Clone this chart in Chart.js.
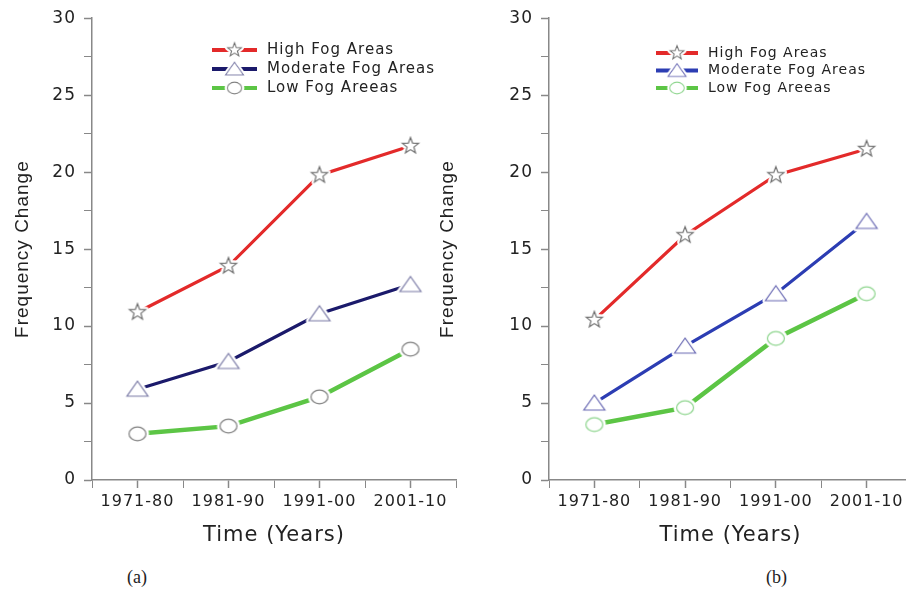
<!DOCTYPE html>
<html>
<head>
<meta charset="utf-8">
<script src="https://cdn.jsdelivr.net/npm/chart.js@4.4.1/dist/chart.umd.min.js"></script>
<style>
  body { margin: 0; background: #fff; width: 906px; height: 597px; overflow: hidden; position: relative; }
  .box { position: absolute; top: 0; height: 560px; }
  #wrap-a { left: 0; width: 460px; }
  #wrap-b { left: 420px; width: 496px; }
  .cap { position: absolute; top: 567px; font: 18px 'Liberation Serif', 'DejaVu Serif', serif; color: #222; }
</style>
</head>
<body>
<div class="box" id="wrap-a"><canvas id="chart-a"></canvas></div>
<div class="box" id="wrap-b"><canvas id="chart-b"></canvas></div>
<div class="cap" style="left:127px">(a)</div>
<div class="cap" style="left:766px">(b)</div>
<script>
// Данные
const periods = ['1971-80', '1981-90', '1991-00', '2001-10'];
const seriesNames = ['High Fog Areas', 'Moderate Fog Areas', 'Low Fog Areeas'];

// (a)
const highA = [10.9, 13.9, 19.8, 21.7];
const modA  = [5.9, 7.7, 10.8, 12.7];
const lowA  = [3.0, 3.5, 5.4, 8.5];

// (b)
const highB = [10.4, 15.9, 19.8, 21.5];
const modB  = [5.0, 8.7, 12.1, 16.8];
const lowB  = [3.6, 4.7, 9.2, 12.1];

Chart.defaults.font.family = 'DejaVu Sans';
Chart.defaults.color = '#222';

// Маркеры: белая "подложка" вокруг, чтобы линия не доходила до значка
function marker(shape, color) {
  const c = document.createElement('canvas');
  c.width = 30; c.height = 26;
  const g = c.getContext('2d');
  g.translate(15, 13);
  g.beginPath();
  if (shape === 'star') {
    for (let i = 0; i < 10; i++) {
      const r = i % 2 ? 3.6 : 8.5;
      const a = -Math.PI / 2 + i * Math.PI / 5;
      g.lineTo(r * Math.cos(a), r * Math.sin(a));
    }
  } else if (shape === 'tri') {
    g.moveTo(0, -8); g.lineTo(10.5, 7); g.lineTo(-10.5, 7);
  } else {
    g.ellipse(0, 0, 8.5, 6.8, 0, 0, Math.PI * 2);
  }
  g.closePath();
  g.strokeStyle = '#fff'; g.lineWidth = 6; g.lineJoin = 'round'; g.stroke();
  g.fillStyle = '#fff'; g.fill();
  g.strokeStyle = color; g.lineWidth = 1.2; g.lineJoin = 'miter'; g.stroke();
  return c;
}

// Легенда внутри области графика: линия + маркер + подпись
const fogLegend = {
  id: 'fogLegend',
  beforeDraw(chart) { chart.ctx.letterSpacing = '1px'; },
  afterDatasetsDraw(chart, args, opts) {
    const ctx = chart.ctx;
    ctx.save();
    chart.data.datasets.forEach((ds, i) => {
      const y = opts.y + i * opts.gap;
      ctx.strokeStyle = ds.borderColor;
      ctx.lineWidth = 4;
      ctx.beginPath();
      ctx.moveTo(opts.x, y);
      ctx.lineTo(opts.x + opts.len, y);
      ctx.stroke();
      const img = ds.pointStyle, k = 0.85;
      ctx.drawImage(img, opts.x + opts.len / 2 - img.width * k / 2, y - img.height * k / 2, img.width * k, img.height * k);
      ctx.fillStyle = '#222';
      ctx.font = opts.size + 'px "DejaVu Sans"';
      ctx.textBaseline = 'middle';
      ctx.textAlign = 'left';
      ctx.fillText(ds.label, opts.x + opts.len + 10, y);
    });
    ctx.restore();
  }
};

function buildChart(id, high, mod, low, o) {
  const series = [high, mod, low];
  const datasets = series.map((vals, i) => ({
    label: seriesNames[i],
    data: periods.map((p, j) => ({ x: j + 1, y: vals[j] })),
    borderColor: o.colors[i],
    borderWidth: o.widths[i],
    pointStyle: o.markers[i],
    pointRadius: 9,
    tension: 0,
  }));

  return new Chart(document.getElementById(id), {
    type: 'line',
    data: { datasets },
    plugins: [fogLegend],
    options: {
      responsive: true,
      maintainAspectRatio: false,
      animation: false,
      layout: { autoPadding: false, padding: { top: 15, right: o.padRight, bottom: 0, left: 0 } },
      plugins: {
        legend: { display: false },
        tooltip: { enabled: false },
        fogLegend: o.legend,
      },
      scales: {
        x: {
          type: 'linear',
          min: 0.5,
          max: 4.5,
          afterFit: s => { s.height = 80; },
          border: { color: '#888', width: 1.5 },
          grid: {
            drawOnChartArea: false,
            tickLength: 8,
            tickColor: '#888',
            tickWidth: c => Number.isInteger(c.tick.value) ? 1.5 : 1,
          },
          ticks: {
            stepSize: 0.5,
            autoSkip: false,
            maxRotation: 0,
            padding: 4,
            font: { size: 16 },
            callback: v => Number.isInteger(v) ? periods[v - 1] : '',
          },
          title: {
            display: true,
            text: 'Time (Years)',
            font: { size: 21 },
            padding: { top: 0, bottom: 12 },
          },
        },
        y: {
          min: 0,
          max: 30,
          afterFit: s => { s.width = o.yWidth; },
          border: { color: '#888', width: 1.5 },
          grid: {
            drawOnChartArea: false,
            tickLength: 8,
            tickColor: '#888',
            tickWidth: c => c.tick.value % 5 === 0 ? 1.5 : 1,
          },
          ticks: {
            stepSize: 2.5,
            padding: 8,
            font: { size: 17 },
            callback: v => v % 5 === 0 ? v : '',
          },
          title: {
            display: true,
            text: 'Frequency Change',
            font: { family: 'Liberation Sans', size: 19 },
            padding: { top: o.titlePad, bottom: 0 },
          },
        },
      },
    },
  });
}

buildChart('chart-a', highA, modA, lowA, {
  colors: ['#e32a2a', '#1b1a6b', '#5cc545'],
  widths: [3.2, 3.2, 4.5],
  markers: [marker('star', '#707070'), marker('tri', '#7a7aa6'), marker('ell', '#808080')],
  yWidth: 92,
  padRight: 0.5,
  titlePad: 11.5,
  legend: { x: 212, y: 50, gap: 19, len: 45, size: 15 },
});

buildChart('chart-b', highB, modB, lowB, {
  colors: ['#e32a2a', '#2c3db3', '#5cc545'],
  widths: [3.2, 3.2, 4.5],
  markers: [marker('star', '#707070'), marker('tri', '#6a6ab4'), marker('ell', '#8fd68f')],
  yWidth: 129,
  padRight: 0,
  titlePad: 16.5,
  legend: { x: 236, y: 53, gap: 17.5, len: 42, size: 14 },
});
</script>
</body>
</html>
